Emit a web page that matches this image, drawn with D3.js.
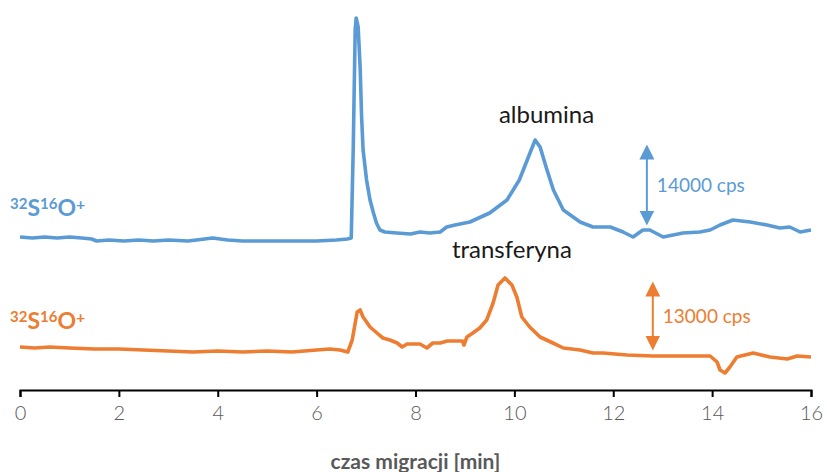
<!DOCTYPE html>
<html>
<head>
<meta charset="utf-8">
<script src="https://cdn.jsdelivr.net/npm/d3@7"></script>
<style>
  body { margin: 0; background: #fff; }
  text { font-family: Lato, "Open Sans", sans-serif; }
</style>
</head>
<body>
<script>
// chart size
var width = 827, height = 472;
var margin = {top: 10, bottom: 82, left: 20, right: 16};

// migration time [min] and signal (arbitrary units) for the two traces
var blueTime = [0, 0.25, 0.5, 0.75, 1, 1.25, 1.45, 1.55, 1.8, 2.1, 2.4, 2.7, 3, 3.4, 3.9, 4.2, 4.5, 5, 5.5, 6, 6.4, 6.62,
  6.7, 6.74, 6.78, 6.8, 6.84, 6.88, 6.91, 6.94, 7.01, 7.08, 7.15, 7.21, 7.28, 7.38, 7.62, 7.9, 8.09, 8.29, 8.5, 8.63,
  8.8, 9.1, 9.5, 9.85, 10.1, 10.26, 10.42, 10.52, 10.66, 10.79, 10.99, 11.33, 11.59, 11.94, 12.2, 12.4, 12.6, 12.74,
  13.01, 13.41, 13.75, 13.96, 14.16, 14.42, 14.77, 15.11, 15.37, 15.57, 15.78, 16];
var blueSignal = [153, 152, 153, 152, 153, 152, 151, 149, 150, 149, 150, 149, 150, 149, 152, 150, 149, 149, 149, 149, 150, 151,
  152, 240, 360, 372, 363, 323, 273, 240, 210, 190, 177, 167, 160, 158, 157, 156, 158, 157, 158, 163,
  165, 168, 177, 190, 210, 230, 250, 243, 220, 200, 180, 168, 163, 163, 158, 153, 160, 160,
  153, 157, 158, 160, 165, 170, 168, 165, 162, 163, 158, 160];

var orangeTime = [0, 0.3, 0.6, 1, 1.5, 2, 2.5, 3, 3.5, 4, 4.5, 5, 5.5, 6, 6.27, 6.47, 6.63, 6.72, 6.82, 6.88, 6.94,
  7.08, 7.22, 7.34, 7.48, 7.63, 7.73, 7.83, 8.09, 8.23, 8.35, 8.5, 8.64, 8.95, 8.98, 9.04, 9.16, 9.3, 9.44, 9.57,
  9.67, 9.81, 9.95, 10.05, 10.15, 10.31, 10.52, 10.78, 10.99, 11.33, 11.59, 11.79, 12.28, 12.8, 13.49, 13.96,
  14.1, 14.16, 14.26, 14.36, 14.5, 14.83, 15.17, 15.52, 15.72, 16];
var orangeSignal = [43, 42, 43, 42, 41, 41, 40, 39, 38, 39, 38, 39, 38, 40, 41, 40, 38, 50, 78, 80, 73,
  63, 57, 52, 50, 47, 43, 46, 46, 42, 47, 47, 49, 49, 45, 53, 57, 62, 70, 87,
  105, 112, 105, 93, 73, 63, 53, 47, 42, 40, 37, 37, 35, 34, 34, 34,
  28, 20, 17, 23, 33, 37, 33, 31, 34, 33];

var xTicks = [0, 2, 4, 6, 8, 10, 12, 14, 16];

// scale bars: [time, from, to] and their labels
var blueBar = [12.68, 165, 245];
var orangeBar = [12.8, 40, 108];
var blueBarLabel = "14000 cps";
var orangeBarLabel = "13000 cps";

var blue = "#5b9bd5", orange = "#ed7d31";

var svg = d3.select("body").append("svg")
  .attr("width", width)
  .attr("height", height);

var x = d3.scaleLinear()
  .domain([0, 16])
  .range([margin.left, width - margin.right]);

var y = d3.scaleLinear()
  .domain([0, 380])
  .range([height - margin.bottom, margin.top]);

var line = d3.line()
  .x(function(d){ return x(d[0]); })
  .y(function(d){ return y(d[1]); });

function drawTrace(times, values, color){
  var pts = times.map(function(t, i){ return [t, values[i]]; });
  svg.append("path")
    .datum(pts)
    .attr("fill", "none")
    .attr("stroke", color)
    .attr("stroke-width", 3.6)
    .attr("stroke-linejoin", "round")
    .attr("d", line);
}

drawTrace(blueTime, blueSignal, blue);
drawTrace(orangeTime, orangeSignal, orange);

// x axis
var axis = svg.append("g")
  .attr("transform", "translate(0," + y(0) + ")")
  .call(d3.axisBottom(x).tickValues(xTicks).tickSize(7).tickSizeOuter(7).tickPadding(9));
axis.select(".domain").attr("stroke", "#000").attr("stroke-width", 2);
axis.selectAll(".tick line").attr("stroke", "#000").attr("stroke-width", 2);
axis.selectAll(".tick text")
  .attr("fill", "#595959")
  .style("font-size", "20px")
  .style("font-weight", "300")
  .style("font-family", "Lato, sans-serif");

svg.append("text")
  .attr("x", (x(0) + x(16)) / 2)
  .attr("y", 469)
  .attr("text-anchor", "middle")
  .attr("fill", "#595959")
  .style("font-size", "21px")
  .style("font-weight", "bold")
  .text("czas migracji [min]");

// ion labels
function ionLabel(yPos, color){
  var t = svg.append("text")
    .attr("x", 10)
    .attr("y", yPos)
    .attr("fill", color)
    .style("font-size", "23px")
    .style("font-weight", "bold");
  t.append("tspan").style("font-size", "15px").attr("baseline-shift", "45%").text("32");
  t.append("tspan").text("S");
  t.append("tspan").style("font-size", "15px").attr("baseline-shift", "45%").text("16");
  t.append("tspan").text("O");
  t.append("tspan").style("font-size", "16px").attr("baseline-shift", "35%").text("+");
}
ionLabel(216, blue);
ionLabel(329, orange);

// peak labels
svg.append("text")
  .attr("x", x(10.65)).attr("y", 123)
  .attr("text-anchor", "middle")
  .attr("fill", "#1a1a1a")
  .style("font-size", "24px")
  .text("albumina");

svg.append("text")
  .attr("x", x(9.95)).attr("y", 258)
  .attr("text-anchor", "middle")
  .attr("fill", "#1a1a1a")
  .style("font-size", "24px")
  .text("transferyna");

// scale bars with arrowheads
var defs = svg.append("defs");
function marker(id, color){
  defs.append("marker")
    .attr("id", id)
    .attr("viewBox", "0 0 10 10")
    .attr("refX", 5).attr("refY", 5)
    .attr("markerWidth", 15).attr("markerHeight", 15)
    .attr("markerUnits", "userSpaceOnUse")
    .attr("orient", "auto-start-reverse")
    .append("path")
    .attr("d", "M0,0 L10,5 L0,10 Z")
    .attr("fill", color);
}
marker("arrBlue", blue);
marker("arrOrange", orange);

function scaleBar(bar, color, id, label){
  var x0 = x(bar[0]);
  var y0 = y(bar[1]), y1 = y(bar[2]);
  svg.append("line")
    .attr("x1", x0).attr("x2", x0)
    .attr("y1", y0 - 7).attr("y2", y1 + 7)
    .attr("stroke", color)
    .attr("stroke-width", 2)
    .attr("marker-start", "url(#" + id + ")")
    .attr("marker-end", "url(#" + id + ")");
  svg.append("text")
    .attr("x", x0 + 10)
    .attr("y", (y0 + y1) / 2 + 7)
    .attr("fill", color)
    .style("font-size", "19px")
    .text(label);
}
scaleBar(blueBar, blue, "arrBlue", blueBarLabel);
scaleBar(orangeBar, orange, "arrOrange", orangeBarLabel);
</script>
</body>
</html>
